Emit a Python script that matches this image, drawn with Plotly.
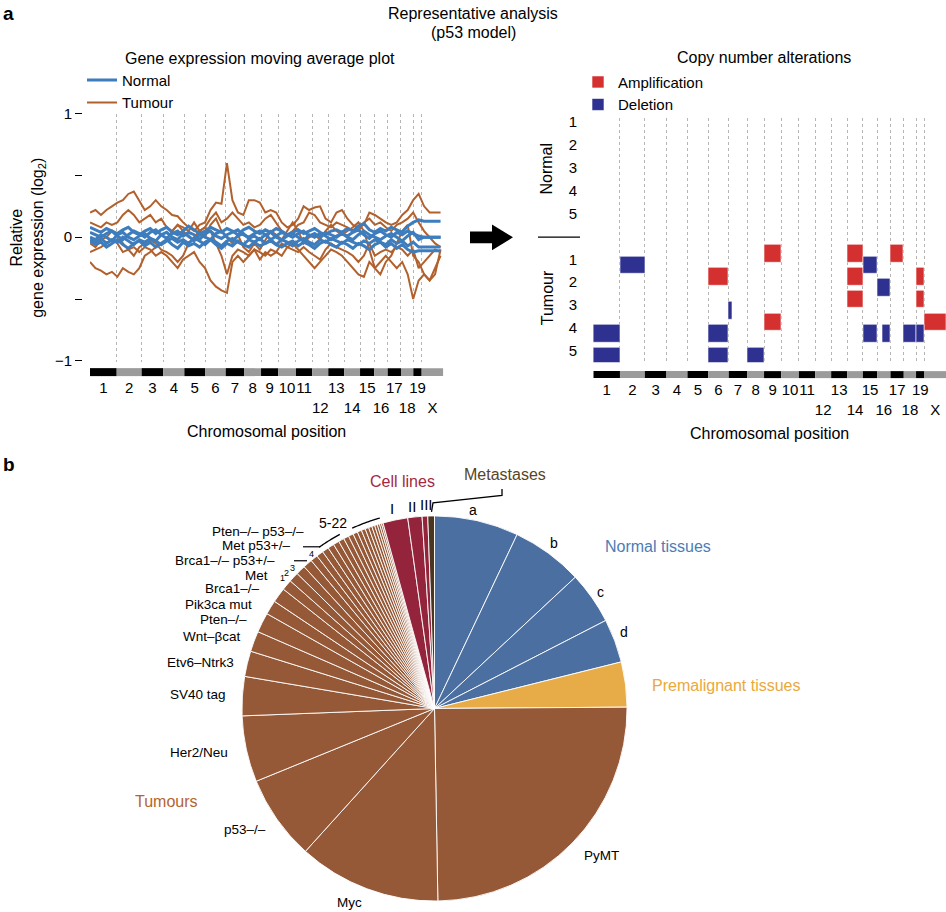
import math
import plotly.graph_objects as go

W, H = 946, 912
# the page photograph maps page-y to picture-y as  y_pic = 8.2 + 0.9843 * y_page ;
# all layout positions below are given in picture pixels and converted here
SY_OFF, SY_SCALE = 8.2, 0.9843
def fx(p): return p / W
def fyp(p): return 1 - p / H
def fy(p): return fyp((p - SY_OFF) / SY_SCALE)

FONT = "Liberation Sans, Arial, sans-serif"

# ---------------- data ----------------
chrom_names = ['1', '2', '3', '4', '5', '6', '7', '8', '9', '10', '11', '12', '13',
               '14', '15', '16', '17', '18', '19', 'X']
chrom_len = [195, 182, 158, 154, 151, 151, 134, 124, 126, 129, 119, 117, 117,
             115, 104, 98, 97, 90, 61, 158]
second_row = ['12', '14', '16', '18', 'X']

# moving-average sample positions along the genome
sample_pos = list(range(0, 2600, 40))

normal_1 = [0.08, 0.06, 0.04, 0.07, 0.05, 0.03, 0.06, 0.08, 0.04, 0.02, 0.05, 0.07, 0.03,
            0.06, 0.08, 0.04, 0.02, 0.05, 0.09, 0.06, 0.03, 0.05, 0.08, 0.06, 0.04, 0.07,
            0.05, 0.02, 0.06, 0.08, 0.05, 0.03, 0.06, 0.04, 0.07, 0.05, 0.02, 0.04, 0.06,
            0.03, 0.05, 0.07, 0.04, 0.02, 0.05, 0.06, 0.04, 0.07, 0.05, 0.09, 0.11, 0.06,
            0.04, 0.07, 0.05, 0.08, 0.06, 0.04, 0.09, 0.12, 0.14, 0.13, 0.13, 0.13, 0.13]
normal_2 = [0.04, 0.02, 0.0, 0.03, 0.05, 0.01, -0.02, 0.02, 0.05, 0.03, 0.0, 0.04, 0.06,
            0.02, -0.01, 0.03, 0.05, 0.01, 0.04, 0.02, -0.02, 0.03, 0.05, 0.01, -0.01, 0.02,
            0.04, 0.06, 0.02, 0.0, 0.03, 0.05, 0.02, -0.02, 0.01, 0.04, 0.02, 0.0, 0.03,
            0.05, 0.01, 0.03, 0.0, 0.04, 0.02, 0.0, 0.03, 0.01, 0.04, 0.06, 0.02, -0.01,
            0.03, 0.05, 0.02, 0.0, 0.04, 0.02, 0.05, 0.03, 0.01, 0.0, 0.0, 0.0, 0.0]
normal_3 = [0.0, -0.02, 0.02, 0.0, -0.03, 0.02, 0.04, 0.0, -0.02, 0.01, 0.03, -0.01, -0.03,
            0.02, 0.04, 0.0, -0.02, 0.03, 0.01, -0.03, 0.02, 0.0, -0.02, 0.03, 0.05, 0.0,
            -0.03, 0.01, 0.03, -0.01, 0.01, -0.02, 0.02, 0.04, 0.0, -0.02, 0.01, 0.03, 0.0,
            -0.03, 0.02, 0.0, 0.03, 0.01, -0.02, 0.01, 0.03, 0.0, -0.02, 0.02, 0.05, 0.02,
            0.0, -0.02, 0.01, 0.03, 0.0, -0.03, 0.01, 0.04, -0.02, 0.0, 0.0, 0.0, 0.0]
normal_4 = [-0.02, -0.04, -0.01, -0.05, -0.02, -0.04, 0.0, -0.03, -0.06, -0.02, -0.04, -0.01,
            -0.03, -0.06, -0.03, -0.01, -0.04, -0.02, -0.05, -0.01, -0.03, -0.06, -0.02,
            -0.04, -0.07, -0.03, -0.01, -0.04, -0.06, -0.02, -0.04, -0.01, -0.05, -0.03,
            -0.06, -0.02, -0.04, -0.07, -0.03, -0.01, -0.04, -0.06, -0.02, -0.04, -0.01,
            -0.03, -0.05, -0.02, -0.04, -0.06, -0.03, -0.05, -0.02, -0.04, -0.06, -0.02,
            -0.05, -0.03, -0.07, -0.04, -0.08, -0.08, -0.08, -0.08, -0.08]
normal_5 = [-0.03, -0.06, -0.04, -0.08, -0.05, -0.02, -0.06, -0.09, -0.05, -0.03, -0.07,
            -0.04, -0.08, -0.05, -0.02, -0.06, -0.09, -0.04, -0.07, -0.05, -0.08, -0.04,
            -0.02, -0.06, -0.09, -0.05, -0.07, -0.03, -0.06, -0.08, -0.04, -0.07, -0.05,
            -0.02, -0.06, -0.08, -0.05, -0.03, -0.07, -0.04, -0.06, -0.09, -0.05, -0.03,
            -0.06, -0.08, -0.04, -0.06, -0.09, -0.05, -0.07, -0.1, -0.06, -0.04, -0.08,
            -0.05, -0.09, -0.06, -0.1, -0.12, -0.11, -0.11, -0.11, -0.11, -0.11]

tumour_1 = [0.2, 0.22, 0.18, 0.22, 0.25, 0.28, 0.3, 0.35, 0.37, 0.3, 0.22, 0.25, 0.3, 0.25,
            0.22, 0.18, 0.17, 0.12, 0.08, 0.05, 0.1, 0.12, 0.22, 0.28, 0.27, 0.6, 0.3, 0.2,
            0.18, 0.3, 0.3, 0.28, 0.2, 0.22, 0.2, 0.12, 0.08, 0.1, 0.15, 0.25, 0.22, 0.24,
            0.25, 0.15, 0.12, 0.2, 0.22, 0.15, 0.1, 0.08, 0.1, 0.2, 0.18, 0.15, 0.12, 0.1,
            0.12, 0.18, 0.22, 0.3, 0.35, 0.25, 0.2, 0.2, 0.2]
tumour_2 = [0.12, 0.1, 0.08, 0.12, 0.1, 0.12, 0.18, 0.22, 0.18, 0.12, 0.15, 0.18, 0.12, 0.15,
            0.08, 0.05, 0.1, 0.05, 0.0, -0.02, 0.05, 0.08, 0.15, 0.2, 0.12, 0.15, 0.2, 0.15,
            0.1, 0.12, 0.08, 0.1, 0.15, 0.18, 0.12, 0.05, 0.02, 0.05, 0.1, 0.12, 0.2, 0.18,
            0.12, 0.1, 0.08, 0.12, 0.1, 0.08, 0.05, 0.05, 0.12, 0.15, 0.1, 0.12, 0.08, 0.05,
            0.1, 0.12, 0.15, 0.2, 0.12, 0.05, 0.0, -0.05, -0.08]
tumour_3 = [-0.12, -0.1, -0.08, -0.05, -0.02, -0.05, -0.12, -0.1, -0.15, -0.08, -0.05, -0.02,
            -0.05, -0.1, -0.12, -0.15, -0.2, -0.15, -0.05, 0.0, 0.05, 0.08, 0.05, -0.05,
            -0.15, -0.3, -0.15, -0.1, -0.12, -0.15, -0.1, -0.12, -0.15, -0.1, -0.12, -0.05,
            -0.08, -0.1, -0.12, -0.08, -0.12, -0.15, -0.18, -0.1, -0.05, -0.08, -0.1, -0.12,
            -0.15, -0.2, -0.15, -0.05, -0.15, -0.12, -0.1, -0.12, -0.08, -0.1, -0.15, -0.1,
            -0.25, -0.2, -0.15, -0.1, -0.12]
tumour_4 = [-0.05, -0.08, -0.02, 0.0, 0.05, 0.02, -0.05, -0.1, -0.08, -0.12, -0.08, -0.1,
            -0.15, -0.12, -0.15, -0.2, -0.25, -0.18, -0.15, -0.12, -0.2, -0.25, -0.35, -0.4,
            -0.43, -0.45, -0.2, -0.15, -0.2, -0.15, -0.1, -0.18, -0.12, -0.15, -0.12, -0.15,
            -0.08, -0.05, -0.1, -0.15, -0.2, -0.25, -0.2, -0.15, -0.1, -0.12, -0.15, -0.2,
            -0.25, -0.3, -0.32, -0.2, -0.25, -0.2, -0.15, -0.2, -0.25, -0.2, -0.3, -0.5,
            -0.35, -0.3, -0.35, -0.3, -0.1]
tumour_5 = [-0.2, -0.25, -0.27, -0.3, -0.28, -0.32, -0.25, -0.28, -0.3, -0.25, -0.15, -0.12,
            -0.08, -0.05, -0.02, 0.05, 0.1, 0.08, 0.05, 0.12, 0.05, 0.0, 0.1, 0.15, 0.05, 0.0,
            -0.05, 0.02, -0.08, -0.12, -0.05, -0.1, -0.02, 0.05, 0.02, -0.02, 0.05, 0.12,
            0.05, -0.05, 0.0, 0.02, -0.02, 0.05, 0.1, 0.05, 0.02, 0.05, 0.08, 0.12, 0.05,
            -0.1, -0.25, -0.3, -0.2, -0.15, -0.05, 0.05, 0.1, -0.15, -0.2, -0.3, -0.35,
            -0.25, -0.15]

y_ticks = [-1, -0.5, 0, 0.5, 1]
y_ticktext = ['\u22121', ' ', '0', ' ', '1']

# copy-number alteration segments (fraction of each chromosome affected)
cna_rows = ['N1', 'N2', 'N3', 'N4', 'N5', '', 'T1', 'T2', 'T3', 'T4', 'T5']
cna_row_text = ['1', '2', '3', '4', '5', ' ', '1', '2', '3', '4', '5']
cna_sample = ['T1', 'T1', 'T1', 'T1', 'T1',
              'T2', 'T2', 'T2', 'T2',
              'T3', 'T3', 'T3',
              'T4', 'T4', 'T4', 'T4', 'T4', 'T4', 'T4', 'T4',
              'T5', 'T5', 'T5']
cna_chrom = ['2', '9', '14', '15', '17',
             '6', '14', '16', '19',
             '7', '14', '19',
             '1', '6', '9', '15', '16', '18', '19', 'X',
             '1', '6', '8']
cna_from = [0, 0, 0, 0, 0,
            0, 0, 0, 0,
            0, 0, 0,
            0, 0, 0, 0, 0.38, 0, 0, 0,
            0, 0, 0]
cna_to = [1, 1, 1, 1, 1,
          1, 1, 1, 1,
          0.18, 1, 1,
          1, 1, 1, 1, 1, 1, 1, 1,
          1, 1, 1]
cna_type = ['Deletion', 'Amplification', 'Amplification', 'Deletion', 'Amplification',
            'Amplification', 'Amplification', 'Deletion', 'Amplification',
            'Deletion', 'Amplification', 'Amplification',
            'Deletion', 'Deletion', 'Amplification', 'Deletion', 'Deletion', 'Deletion',
            'Deletion', 'Amplification',
            'Deletion', 'Deletion', 'Deletion']

# pie: share of samples per tissue / model (clockwise from 12 o'clock)
pie_labels = ['a', 'b', 'c', 'd', 'Premalignant tissues', 'PyMT', 'Myc', 'p53\u2013/\u2013',
              'Her2/Neu', 'SV40 tag', 'Etv6\u2013Ntrk3', 'Wnt\u2013\u03b2cat', 'Pten\u2013/\u2013',
              'Pik3ca mut', 'Brca1\u2013/\u2013', 'Met', 'Pten\u2013/\u2013 p53\u2013/\u2013',
              'Brca1\u2013/\u2013 p53+/\u2013', 'Met p53+/\u2013',
              'Model 5', 'Model 6', 'Model 7', 'Model 8', 'Model 9', 'Model 10', 'Model 11',
              'Model 12', 'Model 13', 'Model 14', 'Model 15', 'Model 16', 'Model 17',
              'Model 18', 'Model 19', 'Model 20', 'Model 21', 'Model 22',
              'Cell line I', 'Cell line II', 'Cell line III', 'Metastases']
pie_values = [25.4, 21.6, 15.8, 13.2, 13.6, 89.4, 43.1, 25.7, 20.0, 11.8, 7.7, 6.2, 6.0, 4.3,
              4.5, 3.2, 3.0, 2.9, 2.8,
              2.2, 2.1, 2.0, 1.9, 1.8, 1.7, 1.6, 1.5, 1.4, 1.3, 1.2, 1.1, 1.0, 0.9, 0.8, 0.7,
              0.6, 0.5,
              7.5, 4.3, 1.7, 2.0]
pie_group = (['Normal tissues'] * 4 + ['Premalignant tissues'] + ['Tumours'] * 32 +
             ['Cell lines'] * 3 + ['Metastases'])

# ---------------- styling ----------------
C_NORMAL_LINE = '#3E7DBD'
C_TUMOUR_LINE = '#B2612D'
C_AMP = '#D43030'
C_DEL = '#2E3190'
group_fill = {'Normal tissues': '#4A6FA0', 'Premalignant tissues': '#E7AC48',
              'Tumours': '#955937', 'Cell lines': '#93243B', 'Metastases': '#4A3520'}
group_text = {'Normal tissues': '#4C7CB6', 'Premalignant tissues': '#E9A93C',
              'Tumours': '#B5642E', 'Cell lines': '#A3283F', 'Metastases': '#5A4424'}

# derived chromosome geometry
chrom_start = []
acc = 0
for L in chrom_len:
    chrom_start.append(acc)
    acc += L
genome_len = acc
chrom_bounds = chrom_start + [genome_len]
chrom_mid = [s + L / 2 for s, L in zip(chrom_start, chrom_len)]
chrom_ticktext = [('\u00a0<br>' + n) if n in second_row else n for n in chrom_names]
chrom_index = {n: i for i, n in enumerate(chrom_names)}
row_index = {r: i for i, r in enumerate(cna_rows)}

fig = go.Figure()

# ---- left: moving average lines ----
for k, ys in enumerate([tumour_1, tumour_2, tumour_3, tumour_4, tumour_5]):
    fig.add_trace(go.Scatter(x=sample_pos[:len(ys)], y=ys, mode='lines', name='Tumour',
                             legendgroup='tumour', showlegend=(k == 0), legend='legend',
                             legendrank=2, line=dict(color=C_TUMOUR_LINE, width=2),
                             xaxis='x', yaxis='y'))
for k, ys in enumerate([normal_1, normal_2, normal_3, normal_4, normal_5]):
    fig.add_trace(go.Scatter(x=sample_pos[:len(ys)], y=ys, mode='lines', name='Normal',
                             legendgroup='normal', showlegend=(k == 0), legend='legend',
                             legendrank=1, line=dict(color=C_NORMAL_LINE, width=3),
                             xaxis='x', yaxis='y'))

# ---- right: copy-number alterations ----
for t, col in [('Amplification', C_AMP), ('Deletion', C_DEL)]:
    idx = [i for i, v in enumerate(cna_type) if v == t]
    base = [chrom_start[chrom_index[cna_chrom[i]]] + cna_from[i] * chrom_len[chrom_index[cna_chrom[i]]] for i in idx]
    length = [(cna_to[i] - cna_from[i]) * chrom_len[chrom_index[cna_chrom[i]]] for i in idx]
    rows = [row_index[cna_sample[i]] for i in idx]
    fig.add_trace(go.Bar(x=length, base=base, y=rows, orientation='h', width=0.77,
                         name=t, legend='legend2', marker=dict(color=col, line=dict(color='white', width=0.6)),
                         xaxis='x2', yaxis='y2'))

# ---- pie ----
cx, cy, R_vis = 434.5, 709, 194.5
R_page = 196
cy_page = (cy - SY_OFF) / SY_SCALE
fig.add_trace(go.Pie(labels=pie_labels, values=pie_values, sort=False, direction='clockwise',
                     rotation=0, textinfo='none', showlegend=False,
                     marker=dict(colors=[group_fill[g] for g in pie_group],
                                 line=dict(color='white', width=0.9)),
                     domain=dict(x=[fx(cx - R_page), fx(cx + R_page)],
                                 y=[fyp(cy_page + R_page), fyp(cy_page - R_page)])))

# ---- axes ----
grid_minor = dict(tickvals=chrom_bounds, showgrid=True, gridcolor='#B5B5B5', griddash='dot',
                  gridwidth=1, ticks='')
common_x = dict(range=[0, genome_len], tickvals=chrom_mid, ticktext=chrom_ticktext, ticks='',
                tickangle=0, showgrid=False, zeroline=False, showline=False,
                tickfont=dict(size=15, color='black'), minor=grid_minor, anchor='free')
fig.update_layout(
    xaxis=dict(domain=[fx(90), fx(443.3)], position=fy(377),
               title=dict(text='Chromosomal position', font=dict(size=16), standoff=11), **common_x),
    yaxis=dict(domain=[fy(361.7), fy(113)], range=[-1.008, 1.0], tickvals=y_ticks,
               ticktext=y_ticktext, ticks='outside', ticklen=7, tickwidth=1.3, tickcolor='black',
               showgrid=False, zeroline=False, showline=False, anchor='free', position=fx(82),
               tickfont=dict(size=15, color='black'),
               title=dict(text='Relative<br>gene expression (log<sub>2</sub>)',
                          font=dict(size=16), standoff=6)),
    xaxis2=dict(domain=[fx(593.3), 1.0], position=fy(379),
                title=dict(text='Chromosomal position', font=dict(size=16), standoff=11), **common_x),
    yaxis2=dict(domain=[fy(362), fy(117)], range=[10.5, -0.2],
                tickvals=list(range(len(cna_rows))), ticktext=cna_row_text, ticks='',
                showgrid=False, zeroline=False, showline=False, anchor='free',
                position=fx(577), tickfont=dict(size=15, color='black')),
)

# ---- chromosome bars ----
shapes = []
for i, (s, L) in enumerate(zip(chrom_start, chrom_len)):
    col = 'black' if i % 2 == 0 else '#9B9B9B'
    shapes.append(dict(type='rect', xref='x', yref='paper', x0=s, x1=s + L,
                       y0=fy(376), y1=fy(368), fillcolor=col, line=dict(width=0)))
    shapes.append(dict(type='rect', xref='x2', yref='paper', x0=s, x1=s + L,
                       y0=fy(378), y1=fy(371), fillcolor=col, line=dict(width=0)))

# arrow between panels
arrow = [(470, 231), (492, 231), (492, 224), (513, 237), (492, 250), (492, 243), (470, 243)]
shapes.append(dict(type='path', xref='paper', yref='paper',
                   path='M' + ' L'.join(f'{fx(a):.5f},{fy(b):.5f}' for a, b in arrow) + ' Z',
                   fillcolor='black', line=dict(width=0)))
# normal / tumour separator
shapes.append(dict(type='line', xref='paper', yref='paper', x0=fx(538), x1=fx(580),
                   y0=fy(236.7), y1=fy(236.7), line=dict(color='black', width=1.3)))

def arc(a0, a1, r, n=24):
    pts = []
    for j in range(n + 1):
        a = math.radians(a0 + (a1 - a0) * j / n)
        pts.append((cx + r * math.sin(a), cy - r * math.cos(a)))
    return 'M' + ' L'.join(f'{fx(p):.5f},{fy(q):.5f}' for p, q in pts)

shapes.append(dict(type='path', xref='paper', yref='paper', path=arc(324.5, 331.5, R_vis + 4),
                   line=dict(color='black', width=1.3)))
shapes.append(dict(type='path', xref='paper', yref='paper', path=arc(335.5, 344.0, R_vis + 4),
                   line=dict(color='black', width=1.3)))
# short leader lines for numbered models
for (x0, y0, x1, y1) in [(303, 547, 320, 547), (294, 561, 307, 561)]:
    shapes.append(dict(type='line', xref='paper', yref='paper', x0=fx(x0), x1=fx(x1),
                       y0=fy(y0), y1=fy(y1), line=dict(color='black', width=1.2)))
# metastases bracket
br = [(431.5, 512), (433, 503), (502, 495.5), (502, 489)]
shapes.append(dict(type='path', xref='paper', yref='paper',
                   path='M' + ' L'.join(f'{fx(a):.5f},{fy(b):.5f}' for a, b in br),
                   line=dict(color='black', width=1.3)))
fig.update_layout(shapes=shapes)

# ---- text ----
anns = []
def ann(text, x, y, size=16, color='black', xanchor='center', angle=0):
    anns.append(dict(text=text, x=fx(x), y=fy(y), xref='paper', yref='paper', showarrow=False,
                     xanchor=xanchor, yanchor='middle', textangle=angle,
                     font=dict(size=size, color=color, family=FONT)))

ann('<b>a</b>', 1, 13, 19, xanchor='left')
ann('<b>b</b>', 1, 465, 19, xanchor='left')
ann('Representative analysis', 473, 13)
ann('(p53 model)', 473, 32)
ann('Gene expression moving average plot', 260, 58)
ann('Copy number alterations', 764, 57)
ann('Normal', 547, 168, angle=-90)
ann('Tumour', 547, 298, angle=-90)

# pie labels
ann('a', 473, 510, 14)
ann('b', 554, 543, 14)
ann('c', 600, 592, 14)
ann('d', 624, 632, 14)
ann('Normal tissues', 603, 547, 16, group_text['Normal tissues'], 'left')
ann('Premalignant tissues', 650, 686, 16, group_text['Premalignant tissues'], 'left')
ann('PyMT', 601, 856, 13.5)
ann('Myc', 349, 903, 13.5)
ann('p53\u2013/\u2013', 268, 830, 13.5, xanchor='right')
ann('Her2/Neu', 230, 753, 13.5, xanchor='right')
ann('Tumours', 166, 802, 16, group_text['Tumours'])
for text, xr, y in [('SV40 tag', 228, 695), ('Etv6\u2013Ntrk3', 236, 663),
                    ('Wnt\u2013\u03b2cat', 243, 637), ('Pten\u2013/\u2013', 249, 620),
                    ('Pik3ca mut', 254, 605), ('Brca1\u2013/\u2013', 262, 589), ('Met', 270, 576),
                    ('Brca1\u2013/\u2013 p53+/\u2013', 277, 561), ('Met p53+/\u2013', 292, 546),
                    ('Pten\u2013/\u2013 p53\u2013/\u2013', 306, 532)]:
    ann(text, xr, y, 13.5, xanchor='right')
ann('5-22', 333, 523, 14)
for text, x, y in [('1', 282, 578), ('2', 286, 573), ('3', 292, 568), ('4', 311, 554)]:
    ann(text, x, y, 9)
ann('I', 392, 509, 15, 'black')
ann('II', 412, 507, 15, 'black')
ann('III', 426.5, 505, 15, 'black')
ann('Cell lines', 402, 482, 16, group_text['Cell lines'])
ann('Metastases', 505, 475, 16, group_text['Metastases'])
fig.update_layout(annotations=anns)

fig.update_layout(
    width=W, height=H, margin=dict(l=0, r=0, t=0, b=0),
    paper_bgcolor='white', plot_bgcolor='white',
    font=dict(family=FONT, size=16, color='black'),
    bargap=0,
    legend=dict(x=fx(82), y=fy(63), xanchor='left', yanchor='top', font=dict(size=15),
                bgcolor='rgba(0,0,0,0)', tracegroupgap=0, itemwidth=30),
    legend2=dict(x=fx(578), y=fy(65), xanchor='left', yanchor='top', font=dict(size=15),
                 bgcolor='rgba(0,0,0,0)', itemwidth=30),
)

page_fix = ("document.documentElement.style.margin='0';document.documentElement.style.padding='0';"
            "document.documentElement.style.overflow='hidden';"
            "document.body.style.margin='0';document.body.style.padding='0';"
            "document.body.style.overflow='hidden';"
            "var gd=document.getElementById('{plot_id}');gd.style.position='absolute';"
            "gd.style.left='0px';gd.style.top='0px';")
fig.write_html('out.html', config={'displayModeBar': False}, post_script=page_fix)
